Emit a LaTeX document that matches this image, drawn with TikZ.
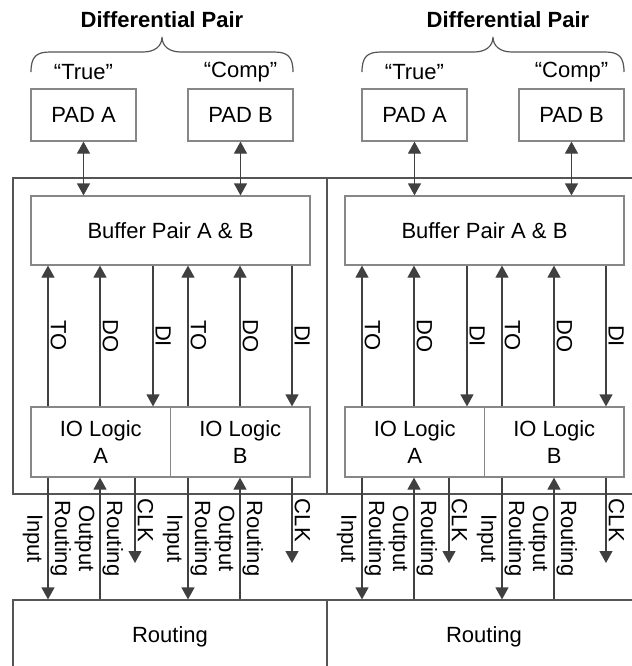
\documentclass[tikz,border=0pt]{standalone}
\usepackage{fontspec}
\setmainfont{Liberation Sans}
\usetikzlibrary{arrows.meta,positioning,calc}

\definecolor{framegray}{RGB}{85,85,85}
\definecolor{boxgray}{RGB}{135,135,135}
\definecolor{sigink}{RGB}{64,64,64}

\begin{document}
\begin{tikzpicture}[
    x=0.5pt, y=-0.5pt,
    >={Triangle[length=6pt,width=6.5pt]},
    every node/.style={font=\fontsize{11}{13.5}\selectfont},
    box/.style={draw=boxgray, line width=0.6pt, inner sep=0pt, align=center},
    frame/.style={draw=framegray, line width=0.6pt, inner sep=0pt, minimum width=157pt},
    sig/.style={draw=sigink, line width=0.6pt},
    lbl/.style={rotate=-90, anchor=south, inner sep=1pt},
    lblleft/.style={rotate=-90, anchor=north, inner sep=2.5pt}
  ]
  \useasboundingbox (0,0) rectangle (632,666);
  \clip (0,0) rectangle (632,666);

  \foreach \b/\t/\d/\n in {0/0/162/L, 314/331/508/R} {
    % pads and the pair brace
    \node[font=\fontsize{11}{13.5}\selectfont\bfseries] (title\n) at (\d,20) {Differential Pair};
    \node (true\n) at (\t+83.5,72) {“True”};
    \node (comp\n) at (\t+240.5,72) {“Comp”};
    \node[box, minimum width=52.5pt, minimum height=26pt] (padA\n) at (\t+83.5,115) {PAD A};
    \node[box, minimum width=52.5pt, minimum height=26pt] (padB\n) at (\t+240.5,115) {PAD B};
    \draw[framegray, line width=0.6pt] (\t+31,72) .. controls (\t+31,57) and (\t+36,52) .. (\t+50,52)
      -- (\t+143,52) .. controls (\t+155,52) and (\t+162,46) .. (\t+162,37)
      .. controls (\t+162,46) and (\t+169,52) .. (\t+181,52)
      -- (\t+274,52) .. controls (\t+288,52) and (\t+293,57) .. (\t+293,72);

    % frame, buffer, io logic, routing
    \node[frame, minimum height=158pt] (frame\n) at (\b+170,336) {};
    \node[box, minimum width=139.5pt, minimum height=34.5pt] (buf\n) at (\b+170.5,230.5) {Buffer Pair A \& B};
    \node[box, minimum width=69.75pt, minimum height=35pt] (ioA\n) at (\b+100.75,442) {IO Logic\\A};
    \node[box, minimum width=69.75pt, minimum height=35pt] (ioB\n) at (\b+240.25,442) {IO Logic\\B};
    \node[frame, minimum height=37pt] (route\n) at (\b+170,637) {Routing};

    \foreach \x [count=\i] in {48,100,153,188,240,292,135}
      \coordinate (col\n\i) at (\b+\x,0);
    \coordinate (clkA\n) at (\b+135,563);
    \coordinate (clkB\n) at (\b+292,563);

    \draw[sig, <->] (padA\n) -- (padA\n |- buf\n.north);
    \draw[sig, <->] (padB\n) -- (padB\n |- buf\n.north);

    \draw[sig, ->] (col\n1 |- ioA\n.north) -- node[lbl] {TO} (col\n1 |- buf\n.south);
    \draw[sig, ->] (col\n2 |- ioA\n.north) -- node[lbl] {DO} (col\n2 |- buf\n.south);
    \draw[sig, ->] (col\n3 |- buf\n.south) -- node[lbl] {DI} (col\n3 |- ioA\n.north);
    \draw[sig, ->] (col\n4 |- ioB\n.north) -- node[lbl] {TO} (col\n4 |- buf\n.south);
    \draw[sig, ->] (col\n5 |- ioB\n.north) -- node[lbl] {DO} (col\n5 |- buf\n.south);
    \draw[sig, ->] (col\n6 |- buf\n.south) -- node[lbl] {DI} (col\n6 |- ioB\n.north);

    \draw[sig, ->] (col\n1 |- ioA\n.south) -- node[lblleft] {Input} node[lbl] {Routing} (col\n1 |- route\n.north);
    \draw[sig, ->] (col\n2 |- route\n.north) -- node[lblleft] {Output} node[lbl] {Routing} (col\n2 |- ioA\n.south);
    \draw[sig, ->] (col\n7 |- ioA\n.south) -- node[lbl] {CLK} (clkA\n);
    \draw[sig, ->] (col\n4 |- ioB\n.south) -- node[lblleft] {Input} node[lbl] {Routing} (col\n4 |- route\n.north);
    \draw[sig, ->] (col\n5 |- route\n.north) -- node[lblleft] {Output} node[lbl] {Routing} (col\n5 |- ioB\n.south);
    \draw[sig, ->] (col\n6 |- ioB\n.south) -- node[lbl] {CLK} (clkB\n);
  }
\end{tikzpicture}
\end{document}
